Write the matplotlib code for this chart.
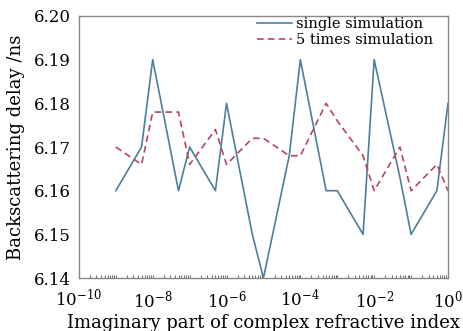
import matplotlib
matplotlib.use("Agg")
import matplotlib.pyplot as plt
import numpy as np
from matplotlib.ticker import LogLocator, NullFormatter

plt.rcParams['font.family'] = ['DejaVu Serif']
plt.rcParams['mathtext.fontset'] = 'dejavuserif'

x_vals = [1e-9, 5e-9, 1e-8, 5e-8, 1e-7, 5e-7, 1e-6, 5e-6, 1e-5, 5e-5,
          1e-4, 5e-4, 1e-3, 5e-3, 1e-2, 5e-2, 1e-1, 5e-1, 1.0]
single = [6.16, 6.17, 6.19, 6.16, 6.17, 6.16, 6.18, 6.15, 6.14, 6.168,
          6.19, 6.16, 6.16, 6.15, 6.19, 6.163, 6.15, 6.16, 6.18]
five = [6.170, 6.166, 6.178, 6.178, 6.166, 6.174, 6.166, 6.172, 6.172, 6.168,
        6.168, 6.180, 6.176, 6.168, 6.160, 6.170, 6.160, 6.166, 6.160]
y_ticks = [6.14, 6.15, 6.16, 6.17, 6.18, 6.19, 6.20]
x_ticks = [1e-10, 1e-8, 1e-6, 1e-4, 1e-2, 1e0]
x_ticklabels = [r'$10^{-10}$', r'$10^{-8}$', r'$10^{-6}$', r'$10^{-4}$', r'$10^{-2}$', r'$10^{0}$']

fig = plt.figure(figsize=(4.64, 3.31), dpi=100)
ax = fig.add_axes([0.170, 0.160, 0.7955, 0.7917])

ax.plot(x_vals, single, color='#4a7fa0', lw=1.2, label='single simulation')
ax.plot(x_vals, five, color='#b5475f', lw=1.2, ls=(0, (4, 2.5)), label='5 times simulation')

ax.set_xscale('log')
ax.set_xlim(1e-10, 1)
ax.set_ylim(6.14, 6.20)
ax.set_xticks(x_ticks)
ax.set_xticklabels(x_ticklabels, fontsize=12)
ax.xaxis.set_minor_locator(LogLocator(base=10, subs=np.arange(1, 10), numticks=100))
ax.xaxis.set_minor_formatter(NullFormatter())
ax.set_yticks(y_ticks)
ax.set_yticklabels([f'{v:.2f}' for v in y_ticks], fontsize=12)
ax.tick_params(axis='x', which='both', direction='in', length=2, width=0.6, color='#555555', pad=8)
ax.tick_params(axis='y', which='both', length=0, pad=6)

for s in ax.spines.values():
    s.set_color('#888888')
    s.set_linewidth(1.0)

ax.set_xlabel('Imaginary part of complex refractive index', fontsize=13, labelpad=2)
ax.set_ylabel('Backscattering delay /ns', fontsize=13, labelpad=6)

leg = ax.legend(loc='upper right', bbox_to_anchor=(0.96, 0.995), frameon=False, fontsize=10.5,
                handlelength=2.4, handletextpad=0.3, borderaxespad=0, borderpad=0,
                labelspacing=0.15)

fig.savefig('out.png', dpi=100)
